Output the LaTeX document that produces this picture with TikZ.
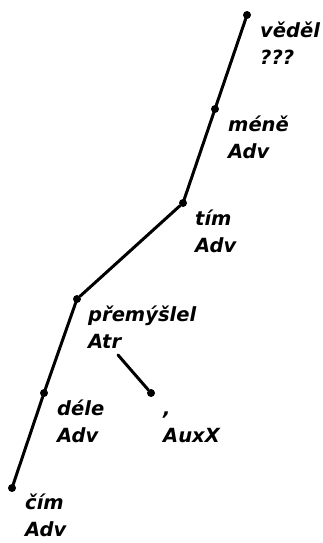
\documentclass[tikz,border=0pt]{standalone}
\usepackage{fontspec}
\setmainfont{DejaVu Sans}
\usetikzlibrary{positioning}

\begin{document}
\begin{tikzpicture}[x=1pt, y=-1pt,
    dot/.style={circle, fill=black, inner sep=0pt, minimum size=8pt},
    edge/.style={line width=3pt, line cap=round},
    lbl/.style={anchor=base west, inner sep=0pt, align=left,
        font=\fontsize{19.5}{27}\selectfont\bfseries\itshape}]
    \useasboundingbox (0,0) rectangle (323,543);
    % dots of the tree
    \node[dot] (vedel) at (247,15) {};
    \node[dot] (mene)  at (215,109) {};
    \node[dot] (tim)   at (183,203) {};
    \node[dot] (prem)  at (77,299) {};
    \node[dot] (auxx)  at (151,393) {};
    \node[dot] (dele)  at (44,393) {};
    \node[dot] (cim)   at (12,488) {};
    % labels (anchored on the baseline of their last line)
    \node[lbl] (vedellbl) at (260,64)  {věděl\\???};
    \node[lbl] (menelbl)  at (228,158) {méně\\Adv};
    \node[lbl] (timlbl)   at (195,252) {tím\\Adv};
    \node[lbl] (premlbl)  at (88,348)  {přemýšlel\\Atr};
    \node[lbl] (delelbl)  at (57,442)  {déle\\Adv};
    \node[lbl] (auxxlbl)  at (163,442) {,\\AuxX};
    \node[lbl] (cimlbl)   at (25,536)  {čím\\Adv};
    \coordinate (atrfoot) at (118,355);
    % edges
    \draw[edge] (vedel) -- (mene) -- (tim) -- (prem) -- (dele) -- (cim);
    \draw[edge] (atrfoot) -- (auxx);
\end{tikzpicture}
\end{document}
